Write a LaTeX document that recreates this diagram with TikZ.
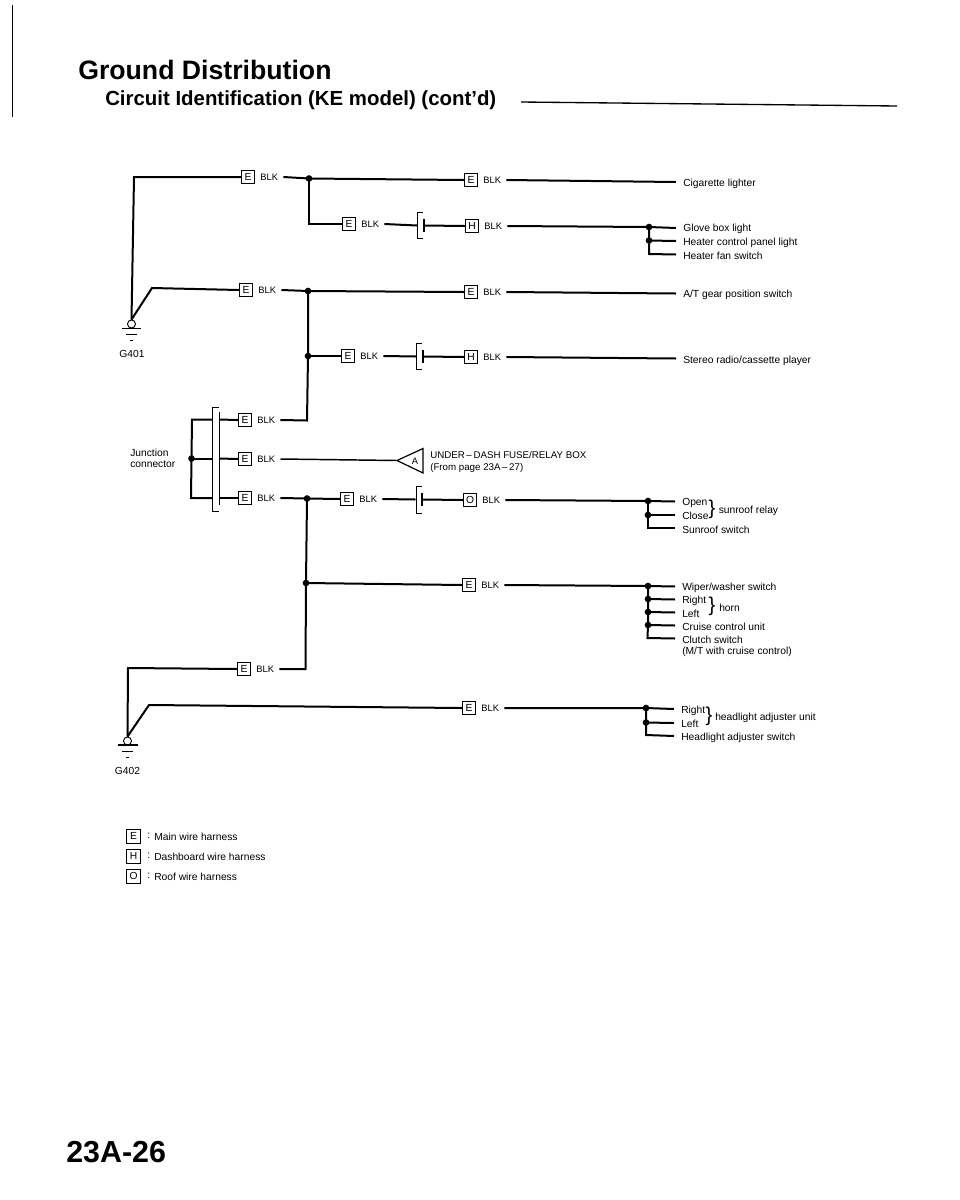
\documentclass[tikz,border=0pt]{standalone}
\usepackage{fontspec}
\setmainfont{Liberation Sans}
\newcommand{\blkpair}[4]{%
  \node[cbox] (#1) at (#2,#3) {#4};
  \node[blktext] (#1T) at (#1.east) {BLK};}
\tikzset{
  cbox/.style={draw,line width=0.7pt,minimum width=10.1pt,minimum height=10.1pt,inner sep=0pt,font=\fontsize{7.7}{8}\selectfont},
  blktext/.style={anchor=west,inner ysep=0pt,inner xsep=3.75pt,font=\fontsize{7}{8}\selectfont},
  wire/.style={line width=1.5pt,line join=miter},
  jdot/.style={circle,fill=black,inner sep=0pt,minimum size=5pt},
  lab/.style={anchor=west,inner sep=0pt,yshift=-0.6pt,font=\fontsize{7.7}{8}\selectfont},
  shell/.style={line width=0.7pt},
  brace/.style={inner sep=0pt,font=\fontsize{15}{16}\selectfont}
}
\begin{document}
\begin{tikzpicture}[x=0.75pt,y=-0.75pt]
\useasboundingbox[fill=white] (0,0) rectangle (960,1200);
% page edge and titles
\draw[line width=0.5pt] (12,5) -- (12,117);
\node[anchor=west,inner sep=0pt,font=\fontsize{20}{22}\selectfont\bfseries] (title) at (78,70) {Ground Distribution};
\node[anchor=west,inner sep=0pt,font=\fontsize{15.3}{16}\selectfont\bfseries] (sub) at (105,100) {Circuit Identification (KE model) (cont'd)};
\coordinate (ruleA) at (521,102); \coordinate (ruleB) at (897,106);
\draw[line width=1pt] (ruleA) -- (ruleB);
\node[anchor=west,inner sep=0pt,font=\fontsize{22.8}{24}\selectfont\bfseries] (page) at (66,1152.5) {23A-26};

% connectors: first column
\blkpair{a}{248}{177}{E}
\blkpair{b}{246}{290}{E}
\blkpair{c}{245}{420}{E}
\blkpair{d}{245}{459}{E}
\blkpair{e}{245}{498}{E}
\blkpair{f}{244}{669}{E}
% second column
\blkpair{g}{349}{224}{E}
\blkpair{h}{348}{356}{E}
\blkpair{i}{347}{499}{E}
% third column
\blkpair{k}{471}{180}{E}
\blkpair{l}{472}{226}{H}
\blkpair{m}{471}{292}{E}
\blkpair{n}{471}{357}{H}
\blkpair{o}{470}{500}{O}
\blkpair{p}{469}{585}{E}
\blkpair{q}{469}{708}{E}

% grounds
\node[circle,draw,line width=0.7pt,inner sep=0pt,minimum size=6pt] (g1) at (131.5,324) {};
\draw[line width=1.1pt] (122,328.5) -- (141,328.5);
\draw[line width=0.3pt] (126,334) -- (137,334);
\draw[line width=0.5pt] (130,340) -- (133,340);
\node[inner sep=0pt,font=\fontsize{7.7}{8}\selectfont] (g1t) at (132,354) {G401};
\node[circle,draw,line width=0.7pt,inner sep=0pt,minimum size=6pt] (g2) at (127.5,741) {};
\draw[line width=1.1pt] (118,745) -- (138,745);
\draw[line width=0.3pt] (122,751) -- (133,751);
\draw[line width=0.5pt] (126,757) -- (129,757);
\node[inner sep=0pt,font=\fontsize{7.7}{8}\selectfont] (g2t) at (127.5,771) {G402};

% wires from grounds
\coordinate (ac) at (134,177);
\draw[wire] (g1.north) -- (ac) -- (a.west);
\coordinate (bc) at (152,288);
\draw[wire] (g1.north) -- (bc) -- (b.west);
\coordinate (fc) at (128,668);
\draw[wire] (g2.north) -- (fc) -- (f.west);
\coordinate (qc) at (149,705);
\draw[wire] (g2.north) -- (qc) -- (q.west);

% upper bus
\node[jdot] (j1) at (309,178.5) {};
\draw[wire] (aT.east) -- (j1.center) -- (k.west);
\coordinate (gc) at (309,224);
\draw[wire] (j1.center) -- (gc) -- (g.west);
% second bus
\node[jdot] (j2) at (308,291) {};
\node[jdot] (j3) at (308,356) {};
\coordinate (cc) at (307,420.5);
\draw[wire] (bT.east) -- (j2.center) -- (m.west);
\draw[wire] (j2.center) -- (j3.center) -- (cc) -- (cT.east);
\draw[wire] (j3.center) -- (h.west);
% third bus
\node[jdot] (j4) at (307,498.5) {};
\node[jdot] (j5) at (306,583) {};
\coordinate (fr) at (305.5,669);
\draw[wire] (eT.east) -- (j4.center) -- (i.west);
\draw[wire] (j4.center) -- (j5.center) -- (fr) -- (fT.east);
\draw[wire] (j5.center) -- (p.west);

% in-line connectors
\coordinate (s1l) at (417,225.5); \coordinate (s1r) at (424,225.5);
\draw[wire] (gT.east) -- (s1l); \draw[wire] (s1r) -- (l.west);
\draw[shell] (423,212.5) -- (417.5,212.5) -- (417.5,238.5) -- (423,238.5);
\draw[line width=0.9pt] (424,219) -- (424,232);
\coordinate (s2l) at (416,356.5); \coordinate (s2r) at (423,356.5);
\draw[wire] (hT.east) -- (s2l); \draw[wire] (s2r) -- (n.west);
\draw[shell] (422,343.5) -- (416.5,343.5) -- (416.5,369.5) -- (422,369.5);
\draw[line width=0.9pt] (423,350) -- (423,363);
\coordinate (s3l) at (415.5,499.5); \coordinate (s3r) at (422,499.5);
\draw[wire] (iT.east) -- (s3l); \draw[wire] (s3r) -- (o.west);
\draw[shell] (422,486.5) -- (416,486.5) -- (416,513) -- (422,513);
\draw[line width=0.9pt] (422,493) -- (422,506);

% junction connector
\draw[shell] (218.5,407) -- (212,407) -- (212,511) -- (218.5,511);
\draw[line width=0.7pt] (219,412) -- (219,505);
\node[jdot] (j6) at (191.5,458.5) {};
\coordinate (jt) at (192,419.5); \coordinate (jb) at (191,498);
\coordinate (jtr) at (212,419.5); \coordinate (jmr) at (212,458.5); \coordinate (jbr) at (212,498);
\coordinate (jtq) at (219,419.5); \coordinate (jmq) at (219,458.5); \coordinate (jbq) at (219,498);
\draw[wire] (jtr) -- (jt) -- (j6.center) -- (jb) -- (jbr);
\draw[wire] (j6.center) -- (jmr);
\draw[wire] (jtq) -- (c.west); \draw[wire] (jmq) -- (d.west); \draw[wire] (jbq) -- (e.west);
\node[anchor=west,inner sep=0pt,align=left,font=\fontsize{7.7}{8}\selectfont] (jlab) at (130,458.5) {Junction\\connector};

% under-dash fuse box
\node[inner sep=0pt,font=\fontsize{7}{8}\selectfont] (tri) at (415,461) {A};
\coordinate (tA) at (397,460.5); \coordinate (tB) at (423,448.5); \coordinate (tC) at (423,473);
\draw[line width=0.9pt] (tA) -- (tB) -- (tC) -- cycle;
\draw[line width=1.1pt] (dT.east) -- (tA);
\node[lab,align=left,font=\fontsize{7.3}{8.8}\selectfont] (fuse) at (430,461.5) {UNDER\,–\,DASH FUSE/RELAY BOX\\(From page 23A\,–\,27)};

% right-hand loads
\coordinate (r1) at (676,182);
\draw[wire] (kT.east) -- (r1);
\node[lab] (t1) at (683,183) {Cigarette lighter};

\node[jdot] (r2a) at (649,227) {};
\node[jdot] (r2b) at (649,240.5) {};
\coordinate (r2c) at (649,254);
\coordinate (e2a) at (676,228); \coordinate (e2b) at (676,241); \coordinate (e2c) at (676,254.5);
\draw[wire] (lT.east) -- (r2a.center) -- (e2a);
\draw[wire] (r2a.center) -- (r2b.center) -- (r2c) -- (e2c);
\draw[wire] (r2b.center) -- (e2b);
\node[lab] (t2a) at (683,228.5) {Glove box light};
\node[lab] (t2b) at (683,242) {Heater control panel light};
\node[lab] (t2c) at (683,255) {Heater fan switch};

\coordinate (r3) at (676,293.5);
\draw[wire] (mT.east) -- (r3);
\node[lab] (t3) at (683,294.5) {A/T gear position switch};

\coordinate (r4) at (676,358.5);
\draw[wire] (nT.east) -- (r4);
\node[lab] (t4) at (683,360) {Stereo radio/cassette player};

\node[jdot] (r5a) at (648,501) {};
\node[jdot] (r5b) at (648,515) {};
\coordinate (r5c) at (648,528);
\coordinate (e5a) at (675,501.5); \coordinate (e5b) at (675,515); \coordinate (e5c) at (675,528);
\draw[wire] (oT.east) -- (r5a.center) -- (e5a);
\draw[wire] (r5a.center) -- (r5b.center) -- (r5c) -- (e5c);
\draw[wire] (r5b.center) -- (e5b);
\node[lab] (t5a) at (682,502) {Open};
\node[lab] (t5b) at (682,515.5) {Close};
\node[brace] (b5) at (712,509.5) {\}};
\node[lab] (t5d) at (718.5,510) {sunroof relay};
\node[lab] (t5c) at (682,529) {Sunroof switch};

\node[jdot] (r6a) at (648,586) {};
\node[jdot] (r6b) at (648,599) {};
\node[jdot] (r6c) at (648,612) {};
\node[jdot] (r6d) at (648,625) {};
\coordinate (r6e) at (647.5,638);
\coordinate (e6a) at (675,586.5); \coordinate (e6b) at (675,599.5); \coordinate (e6c) at (675,612.5); \coordinate (e6d) at (675,625.5); \coordinate (e6e) at (675,638.5);
\draw[wire] (pT.east) -- (r6a.center) -- (e6a);
\draw[wire] (r6a.center) -- (r6b.center) -- (r6c.center) -- (r6d.center) -- (r6e) -- (e6e);
\draw[wire] (r6b.center) -- (e6b);
\draw[wire] (r6c.center) -- (e6c);
\draw[wire] (r6d.center) -- (e6d);
\node[lab] (t6a) at (682,587.5) {Wiper/washer switch};
\node[lab] (t6b) at (682,600) {Right};
\node[lab] (t6c) at (682,613) {Left};
\node[brace] (b6) at (712,606.5) {\}};
\node[lab] (t6f) at (719,607) {horn};
\node[lab] (t6d) at (682,626.5) {Cruise control unit};
\node[lab,align=left,font=\fontsize{7.7}{8.6}\selectfont] (t6e) at (682,645.5) {Clutch switch\\(M/T with cruise control)};

\node[jdot] (r7a) at (646,708) {};
\node[jdot] (r7b) at (646,722.5) {};
\coordinate (r7c) at (646,735);
\coordinate (e7a) at (674,709); \coordinate (e7b) at (674,723); \coordinate (e7c) at (674,736);
\draw[wire] (qT.east) -- (r7a.center) -- (e7a);
\draw[wire] (r7a.center) -- (r7b.center) -- (r7c) -- (e7c);
\draw[wire] (r7b.center) -- (e7b);
\node[lab] (t7a) at (681,710) {Right};
\node[lab] (t7b) at (681,723.5) {Left};
\node[brace] (b7) at (709,716.5) {\}};
\node[lab] (t7d) at (715,717) {headlight adjuster unit};
\node[lab] (t7c) at (681,737) {Headlight adjuster switch};

% legend
\node[cbox,minimum width=10.5pt,minimum height=10.5pt] (le) at (133.5,836) {E};
\node[cbox,minimum width=10.5pt,minimum height=10.5pt] (lh) at (133.5,856) {H};
\node[cbox,minimum width=10.5pt,minimum height=10.5pt] (lo) at (133.5,876) {O};
\node[lab] (lec) at (147,835) {:};
\node[lab] (lhc) at (147,855) {:};
\node[lab] (loc) at (147,875) {:};
\node[lab] (le2) at (154,836.5) {Main wire harness};
\node[lab] (lh2) at (154,856.5) {Dashboard wire harness};
\node[lab] (lo2) at (154,876.5) {Roof wire harness};
\end{tikzpicture}
\end{document}
